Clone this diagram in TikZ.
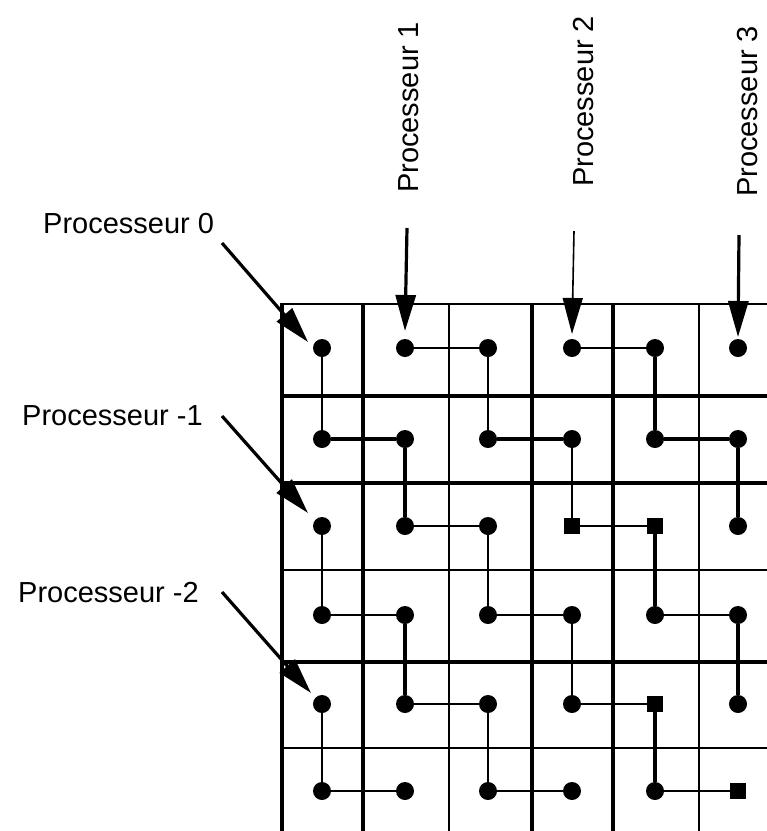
\documentclass[tikz,border=0pt]{standalone}
\usepackage{fontspec}
\setmainfont{Liberation Sans}
\usetikzlibrary{arrows.meta}
\begin{document}
\begin{tikzpicture}[x=1pt,y=-1pt,
  gridtop/.style={line width=2.2pt},
  gridthick/.style={line width=3.4pt},
  gridthin/.style={line width=1.9pt},
  dot/.style={circle,fill=black,draw=none,inner sep=0pt,minimum size=18pt},
  sqdot/.style={rectangle,minimum size=16pt},
  linkthin/.style={line width=1.6pt},
  linkthick/.style={line width=3.2pt},
  lbl/.style={inner sep=0pt,font=\fontsize{29}{34}\selectfont},
  ptr/.style={-{Triangle[length=36pt,width=20pt]}},
  % processors drawn as squares instead of discs
  shape-23/.style={sqdot}, shape-24/.style={sqdot},
  shape-44/.style={sqdot}, shape-55/.style={sqdot},
]
\useasboundingbox (0,0) rectangle (767,831);

% grid of the mesh (runs past the right and bottom edges)
\draw[gridtop] (281,304) -- (767,304);
\foreach \y in {396,483,662} \draw[gridthick] (281,\y) -- (767,\y);
\foreach \y in {570,748} \draw[gridthin] (281,\y) -- (767,\y);
\foreach \x in {282,363,532,613} \draw[gridthick] (\x,303) -- (\x,831);
\foreach \x in {449,699} \draw[gridthin] (\x,303) -- (\x,831);

% one processor per cell
\foreach \r/\y in {0/348,1/439,2/526,3/615,4/704,5/791}
  \foreach \c/\x in {0/322,1/405,2/488,3/572,4/655,5/738}
    \node[dot,shape-\r\c/.try] (d\r\c) at (\x,\y) {};

% links between processors
\draw[linkthin]  (d00) -- (d10);
\draw[linkthin]  (d01) -- (d02);
\draw[linkthin]  (d02) -- (d12);
\draw[linkthin]  (d03) -- (d04);
\draw[linkthick] (d04) -- (d14);

\draw[linkthick] (d10) -- (d11);
\draw[linkthick] (d11) -- (d21);
\draw[linkthick] (d12) -- (d13);
\draw[linkthin]  (d13) -- (d23);
\draw[linkthick] (d14) -- (d15);
\draw[linkthick] (d15) -- (d25);

\draw[linkthin]  (d20) -- (d30);
\draw[linkthin]  (d21) -- (d22);
\draw[linkthin]  (d22) -- (d32);
\draw[linkthin]  (d23) -- (d24);
\draw[linkthick] (d24) -- (d34);

\draw[linkthin]  (d30) -- (d31);
\draw[linkthick] (d31) -- (d41);
\draw[linkthin]  (d32) -- (d33);
\draw[linkthin]  (d33) -- (d43);
\draw[linkthin]  (d34) -- (d35);
\draw[linkthick] (d35) -- (d45);

\draw[linkthin]  (d40) -- (d50);
\draw[linkthin]  (d41) -- (d42);
\draw[linkthin]  (d42) -- (d52);
\draw[linkthin]  (d43) -- (d44);
\draw[linkthick] (d44) -- (d54);

\draw[linkthin]  (d50) -- (d51);
\draw[linkthin]  (d52) -- (d53);
\draw[linkthin]  (d54) -- (d55);

% processor labels
\node[lbl,anchor=base west] (p0)  at (43,233) {Processeur 0};
\node[lbl,anchor=base west] (pm1) at (22,425) {Processeur -1};
\node[lbl,anchor=base west] (pm2) at (18,602) {Processeur -2};
\node[lbl,anchor=base west,rotate=90] (p1) at (418,193) {Processeur 1};
\node[lbl,anchor=base west,rotate=90] (p2) at (593,187) {Processeur 2};
\node[lbl,anchor=base west,rotate=90] (p3) at (757,197) {Processeur 3};

% pointers from the labels into the mesh
\coordinate (t0)  at (222,243); \coordinate (h0)  at (308,342);
\coordinate (tm1) at (222,416); \coordinate (hm1) at (308,513);
\coordinate (tm2) at (222,592); \coordinate (hm2) at (311,693);
\coordinate (t1)  at (407,228); \coordinate (h1)  at (405,331);
\coordinate (t2)  at (574,231); \coordinate (h2)  at (572,334);
\coordinate (t3)  at (739,235); \coordinate (h3)  at (738,337);

\draw[ptr,line width=3.2pt] (t0)  -- (h0);
\draw[ptr,line width=3.2pt] (tm1) -- (hm1);
\draw[ptr,line width=3.2pt] (tm2) -- (hm2);
\draw[ptr,line width=3.2pt] (t1)  -- (h1);
\draw[ptr,line width=1.6pt] (t2)  -- (h2);
\draw[ptr,line width=3.2pt] (t3)  -- (h3);
\end{tikzpicture}
\end{document}
